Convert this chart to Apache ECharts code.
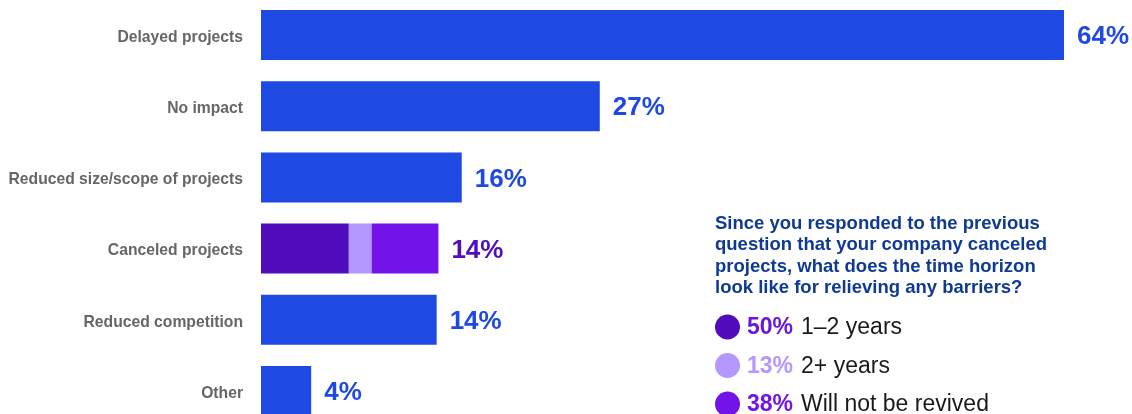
<!DOCTYPE html>
<html>
<head>
<meta charset="utf-8">
<style>
  html, body { margin: 0; padding: 0; background: #ffffff; }
  #chart { width: 1132px; height: 414px; }
</style>
<script src="https://cdn.jsdelivr.net/npm/echarts@6/dist/echarts.min.js"></script>
</head>
<body>
<div id="chart"></div>
<script>
// Impact of barriers on projects (% of respondents)
const categories = ['Delayed projects', 'No impact', 'Reduced size/scope of projects', 'Canceled projects', 'Reduced competition', 'Other'];
const shares = [64, 27, 16, 14, 14, 4];
const canceledIndex = 3;

// Follow-up breakdown for canceled projects (% of those who canceled)
const horizonLabels = ['1–2 years', '2+ years', 'Will not be revived'];
const horizonShares = [50, 13, 38];
const horizonColors = ['#510dbc', '#b497ff', '#7213ea'];
const horizonTextColors = ['#6a16dc', '#b497ff', '#7213ea'];

const questionText = 'Since you responded to the previous\nquestion that your company canceled\nprojects, what does the time horizon\nlook like for relieving any barriers?';

const blue = '#1e49e2';
const font = '"Liberation Sans", Arial, sans-serif';

const chart = echarts.init(document.getElementById('chart'), null, { renderer: 'canvas' });

// Main bars (canceled row left empty, drawn as stacked segments instead)
const mainData = shares.map((v, i) => (i === canceledIndex ? '-' : v));

const valueLabel = {
  show: true,
  position: 'right',
  distance: 13,
  offset: [0, 2],
  fontFamily: font,
  fontWeight: 'bold',
  fontSize: 26,
  color: blue,
  formatter: p => p.value + '%'
};

const series = [{
  type: 'bar',
  name: 'All',
  data: mainData,
  barWidth: 50,
  barGap: '-100%',
  itemStyle: { color: blue },
  label: valueLabel,
  silent: true
}];

const total = shares[canceledIndex];
horizonShares.forEach((s, k) => {
  const data = categories.map((c, i) => (i === canceledIndex ? total * s / 100 : '-'));
  const isLast = k === horizonShares.length - 1;
  series.push({
    type: 'bar',
    name: horizonLabels[k],
    stack: 'canceled',
    data: data,
    barWidth: 50,
    itemStyle: { color: horizonColors[k] },
    label: isLast ? Object.assign({}, valueLabel, {
      color: horizonColors[0],
      formatter: () => total + '%'
    }) : { show: false },
    silent: true
  });
});

// Legend for the breakdown, built from the arrays above
const legendGraphics = [];
const legendX = 727.5, legendY0 = 327, legendStep = 38.5;
horizonShares.forEach((s, k) => {
  const y = legendY0 + k * legendStep;
  legendGraphics.push({
    type: 'circle',
    shape: { cx: legendX, cy: y, r: 12.5 },
    style: { fill: horizonColors[k] }
  });
  legendGraphics.push({
    type: 'text',
    x: 747,
    y: y + 1,
    style: {
      text: '{p|' + s + '%}{t|' + horizonLabels[k] + '}',
      verticalAlign: 'middle',
      rich: {
        p: { fontFamily: font, fontWeight: 'bold', fontSize: 23, fill: horizonTextColors[k], padding: [0, 8, 0, 0] },
        t: { fontFamily: font, fontSize: 23, fill: '#1a1a1a' }
      }
    }
  });
});

const option = {
  backgroundColor: '#ffffff',
  animation: false,
  grid: {
    left: 261, right: 68, top: -0.5, bottom: -12.5,
    containLabel: false,
    outerBoundsMode: 'none'
  },
  xAxis: {
    type: 'value',
    min: 0,
    max: 64,
    show: false
  },
  yAxis: {
    type: 'category',
    data: categories,
    inverse: true,
    axisLine: { show: false },
    axisTick: { show: false },
    axisLabel: {
      margin: 18,
      formatter: v => '{c|' + v + '}',
      rich: {
        c: {
          padding: [5, 0, 0, 0],
          fontFamily: font,
          fontWeight: 'bold',
          fontSize: 15.7,
          color: '#666666'
        }
      }
    }
  },
  series: series,
  graphic: [{
    type: 'text',
    left: 715,
    top: 213,
    style: {
      text: questionText,
      fontFamily: font,
      fontWeight: 'bold',
      fontSize: 18.5,
      lineHeight: 21.4,
      fill: '#0f3a93'
    }
  }].concat(legendGraphics)
};

chart.setOption(option);
</script>
</body>
</html>
